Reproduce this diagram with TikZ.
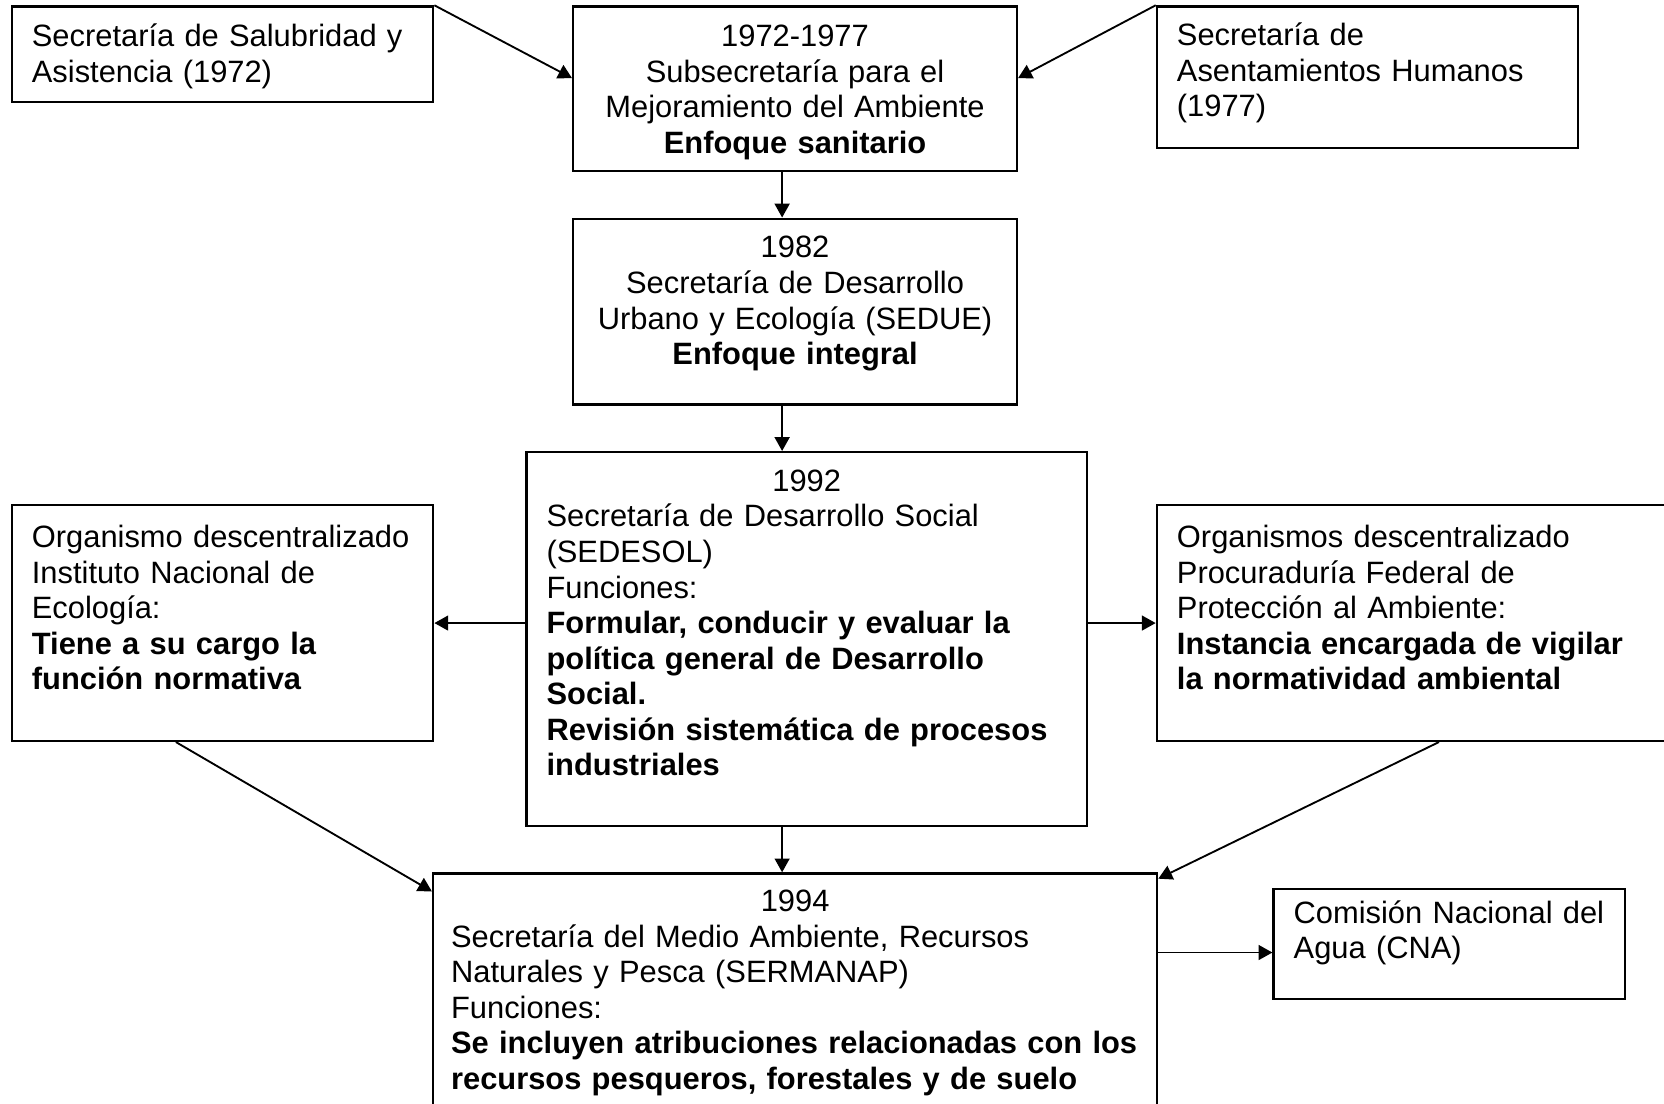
\documentclass[tikz,border=0pt]{standalone}
\usepackage{fontspec}
\setmainfont{Liberation Sans}
\usepackage{tikz}
\usetikzlibrary{arrows.meta,calc}

\begin{document}
\begin{tikzpicture}[
    x=0.01cm, y=-0.01cm,
    every node/.style={font=\fontsize{8.27}{9.53}\selectfont},
    box/.style={draw, line width=0.6pt, inner xsep=0.19cm, inner ysep=0pt,
      anchor=north west, align=left},
    link/.style={line width=0.5pt, -{Triangle[length=0.13cm,width=0.14cm]}}
    ]
\useasboundingbox (0,0) rectangle (1568,1040);
\clip (0,0) rectangle (1568,1040);
% top row
\node[box, text width=3.59cm, text height=0.38cm, text depth=0.52cm] (ssa) at (10,5)
  {Secretaría de Salubridad y\\Asistencia (1972)};
\node[box, align=center, text width=3.80cm, text height=0.38cm, text depth=1.17cm] (sma) at (539,5)
  {1972-1977\\Subsecretaría para el\\Mejoramiento del Ambiente\\\textbf{Enfoque sanitario}};
\node[box, text width=3.59cm, text height=0.37cm, text depth=0.96cm] (sah) at (1089,5)
  {Secretaría de\\Asentamientos Humanos\\(1977)};
% middle
\node[box, align=center, text width=3.80cm, text height=0.37cm, text depth=1.38cm] (sedue) at (539,205)
  {1982\\Secretaría de Desarrollo\\Urbano y Ecología (SEDUE)\\\textbf{Enfoque integral}};
\node[box, text width=4.90cm, text height=0.37cm, text depth=3.15cm] (sedesol) at (495,425)
  {\makebox[\linewidth]{1992}\\Secretaría de Desarrollo Social\\(SEDESOL)\\Funciones:\\
   \textbf{Formular, conducir y evaluar la}\\\textbf{política general de Desarrollo}\\
   \textbf{Social.}\\\textbf{Revisión sistemática de procesos}\\\textbf{industriales}};
\node[box, text width=3.59cm, text height=0.40cm, text depth=1.82cm] (ine) at (10,475)
  {Organismo descentralizado\\Instituto Nacional de\\Ecología:\\
   \textbf{Tiene a su cargo la}\\\textbf{función normativa}};
\node[box, text width=4.73cm, text height=0.40cm, text depth=1.82cm] (profepa) at (1089,475)
  {Organismos descentralizado\\Procuraduría Federal de\\Protección al Ambiente:\\
   \textbf{Instancia encargada de vigilar}\\\textbf{la normatividad ambiental}};
% bottom
\node[box, inner xsep=0.17cm, text width=6.48cm, text height=0.36cm, text depth=2.12cm] (semarnap) at (407,822)
  {\makebox[\linewidth]{1994}\\Secretaría del Medio Ambiente, Recursos\\Naturales y Pesca (SERMANAP)\\
   Funciones:\\\textbf{Se incluyen atribuciones relacionadas con los}\\
   \textbf{recursos pesqueros, forestales y de suelo}};
\node[box, text width=2.93cm, text height=0.32cm, text depth=0.71cm] (cna) at (1199,837)
  {Comisión Nacional del\\Agua (CNA)};

\coordinate (spine) at (737,0);
\coordinate (cnain) at ($(cna.west)+(0,8)$);

\draw[link] (ssa.north east) -- ($(sma.west)+(0,-10)$);
\draw[link] (sah.north west) -- ($(sma.east)+(0,-10)$);
\draw[link] (sma.south -| spine) -- (sedue.north -| spine);
\draw[link] (sedue.south -| spine) -- (sedesol.north -| spine);
\draw[link] (ine.east -| sedesol.west) -- (ine.east);
\draw[link] (profepa.west -| sedesol.east) -- (profepa.west);
\draw[link] (sedesol.south -| spine) -- (semarnap.north -| spine);
\draw[link] ($(ine.south west)!0.39!(ine.south east)$) -- ($(semarnap.north west)+(0,18)$);
\draw[link] ($(profepa.south west)!0.52!(profepa.south east)$) -- ($(semarnap.north east)+(0,6)$);
\draw[link] (cnain -| semarnap.east) -- (cnain);
\end{tikzpicture}
\end{document}
